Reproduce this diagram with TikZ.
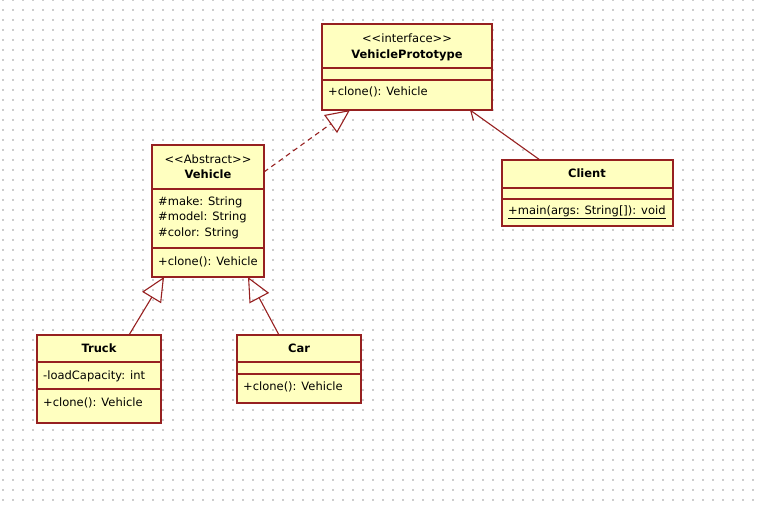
\documentclass[tikz,border=0pt]{standalone}
\usepackage{fontspec}
\setmainfont{DejaVu Sans}
\usepackage{xcolor}
\usepackage{tikz}
\usetikzlibrary{arrows.meta,calc,positioning}

\definecolor{umlfill}{RGB}{255,255,192}
\definecolor{umlline}{RGB}{150,32,32}
\definecolor{griddot}{RGB}{205,205,205}

\newcommand{\stereo}[1]{\textless{}\textless{}#1\textgreater{}\textgreater{}}

\begin{document}
\begin{tikzpicture}[
  x=1pt, y=-1pt,
  font=\fontsize{11.5}{13}\selectfont,
  classbox/.style={draw=umlline, fill=umlfill, line width=1.1pt, anchor=north west, inner sep=0pt, outer sep=0pt},
  sepline/.style={draw=umlline, line width=1.1pt},
  title/.style={inner sep=0pt, anchor=center},
  bold title/.style={title, font=\fontsize{11.5}{13}\selectfont\bfseries},
  member/.style={inner sep=0pt, anchor=west},
  realize/.style={draw=umlline, line width=1.1pt, dash pattern=on 5pt off 4pt, -{Triangle[open, length=24pt, width=22pt]}},
  inherit/.style={draw=umlline, line width=1.1pt, -{Triangle[open, length=24pt, width=22pt]}},
  assoc/.style={draw=umlline, line width=1.1pt, -{Straight Barb[length=8pt, width=13pt]}}
]
\useasboundingbox (0,0) rectangle (757,506);

% Dotted grid
\foreach \gx in {3,13,...,753}
  \foreach \gy in {0,10,...,500}
    \fill[griddot] (\gx-0.7,\gy-0.7) rectangle (\gx+0.7,\gy+0.7);

% Interface
\node[classbox, minimum width=170pt, minimum height=86pt] (proto) at (322,24) {};
\draw[sepline] ($(proto.north west)+(0,44)$) -- ($(proto.north east)+(0,44)$);
\draw[sepline] ($(proto.north west)+(0,56)$) -- ($(proto.north east)+(0,56)$);
\node[title] (proto-st) at (407,38) {\stereo{interface}};
\node[bold title] (proto-name) at (407,55) {VehiclePrototype};
\node[member] (proto-op) at (328,92) {+clone(): Vehicle};

% Abstract class
\node[classbox, minimum width=112pt, minimum height=132pt] (vehicle) at (152,145) {};
\draw[sepline] ($(vehicle.north west)+(0,44)$) -- ($(vehicle.north east)+(0,44)$);
\draw[sepline] ($(vehicle.north west)+(0,103)$) -- ($(vehicle.north east)+(0,103)$);
\node[title] (vehicle-st) at (208,159) {\stereo{Abstract}};
\node[bold title] (vehicle-name) at (208,174) {Vehicle};
\node[member] (vehicle-make) at (158,202) {\#make: String};
\node[member] (vehicle-model) at (158,217) {\#model: String};
\node[member] (vehicle-color) at (158,233) {\#color: String};
\node[member] (vehicle-op) at (158,262) {+clone(): Vehicle};

% Client
\node[classbox, minimum width=171pt, minimum height=66pt] (client) at (502,160) {};
\draw[sepline] ($(client.north west)+(0,28)$) -- ($(client.north east)+(0,28)$);
\draw[sepline] ($(client.north west)+(0,39)$) -- ($(client.north east)+(0,39)$);
\node[bold title] (client-name) at (587,173) {Client};
\node[member] (client-op) at (508,212) {\underline{+main(args: String[]): void}};

% Truck
\node[classbox, minimum width=124pt, minimum height=88pt] (truck) at (37,335) {};
\draw[sepline] ($(truck.north west)+(0,27)$) -- ($(truck.north east)+(0,27)$);
\draw[sepline] ($(truck.north west)+(0,54)$) -- ($(truck.north east)+(0,54)$);
\node[bold title] (truck-name) at (99,348) {Truck};
\node[member] (truck-load) at (43,376) {-loadCapacity: int};
\node[member] (truck-op) at (43,403) {+clone(): Vehicle};

% Car
\node[classbox, minimum width=124pt, minimum height=68pt] (car) at (237,335) {};
\draw[sepline] ($(car.north west)+(0,27)$) -- ($(car.north east)+(0,27)$);
\draw[sepline] ($(car.north west)+(0,39)$) -- ($(car.north east)+(0,39)$);
\node[bold title] (car-name) at (299,348) {Car};
\node[member] (car-op) at (243,387) {+clone(): Vehicle};

% Relations
\draw[realize] ($(vehicle.north east)+(0,27)$) -- ($(proto.south west)+(28,0)$);
\draw[assoc] ($(client.north west)+(38,0)$) -- ($(proto.south east)+(-22,0)$);
\draw[inherit] ($(truck.north west)+(92,0)$) -- ($(vehicle.south west)+(12,0)$);
\draw[inherit] ($(car.north west)+(42,0)$) -- ($(vehicle.south west)+(96,0)$);

\end{tikzpicture}
\end{document}
